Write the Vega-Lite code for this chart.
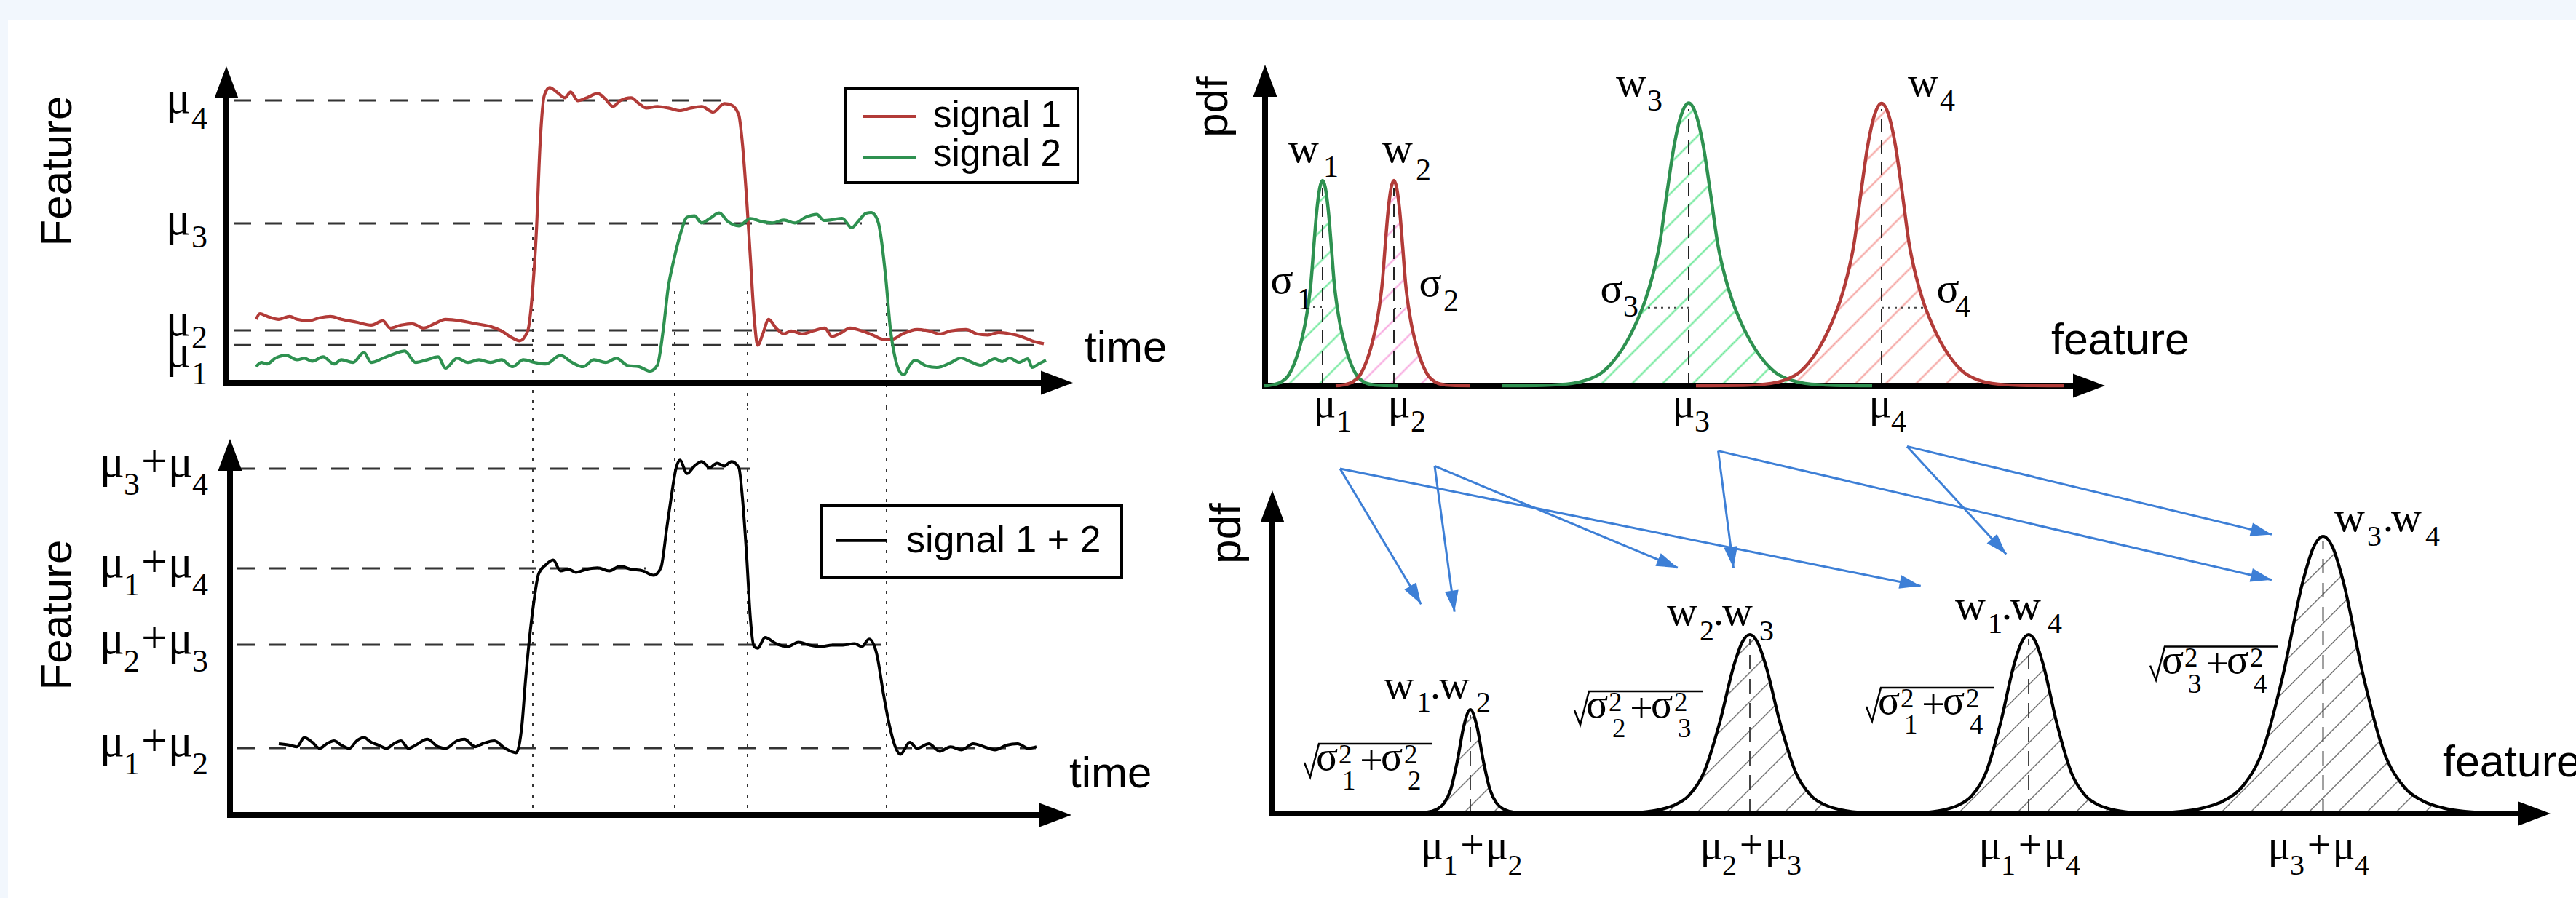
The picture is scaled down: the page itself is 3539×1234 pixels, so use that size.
{
"$schema":"https://vega.github.io/schema/vega-lite/v6.json",
"background":"white",
"padding":0,
"autosize":{"type":"pad"},
"spacing":0,
"config":{"view":{"stroke":null},"concat":{"spacing":0}},
"datasets":{
"signals":[
{"series":"signal 1","time":4.1,"feature":21.8},{"series":"signal 1","time":4.6,"feature":23.75},{"series":"signal 1","time":5.6,"feature":22.8},{"series":"signal 1","time":7.2,"feature":21.8},{"series":"signal 1","time":8.7,"feature":22.8},{"series":"signal 1","time":9.7,"feature":21.8},{"series":"signal 1","time":11.3,"feature":21.3},{"series":"signal 1","time":12.8,"feature":22.3},{"series":"signal 1","time":14.3,"feature":22.8},{"series":"signal 1","time":15.8,"feature":21.8},{"series":"signal 1","time":17.9,"feature":20.8},{"series":"signal 1","time":19.9,"feature":19.8},{"series":"signal 1","time":21.5,"feature":21.3},{"series":"signal 1","time":22.5,"feature":18.8},{"series":"signal 1","time":24.0,"feature":19.8},{"series":"signal 1","time":25.5,"feature":20.3},{"series":"signal 1","time":27.1,"feature":18.8},{"series":"signal 1","time":28.6,"feature":20.3},{"series":"signal 1","time":30.1,"feature":21.8},{"series":"signal 1","time":32.2,"feature":21.3},{"series":"signal 1","time":34.2,"feature":20.3},{"series":"signal 1","time":36.3,"feature":19.3},{"series":"signal 1","time":37.8,"feature":17.8},{"series":"signal 1","time":39.3,"feature":15.4},{"series":"signal 1","time":40.3,"feature":14.4},{"series":"signal 1","time":41.4,"feature":17.8},{"series":"signal 1","time":42.1,"feature":32.7},{"series":"signal 1","time":42.6,"feature":52.4},{"series":"signal 1","time":43.1,"feature":82.1},{"series":"signal 1","time":43.7,"feature":98.9},{"series":"signal 1","time":44.4,"feature":101.4},{"series":"signal 1","time":45.4,"feature":99.9},{"series":"signal 1","time":46.5,"feature":97.9},{"series":"signal 1","time":47.3,"feature":99.9},{"series":"signal 1","time":48.3,"feature":96.9},{"series":"signal 1","time":49.5,"feature":97.9},{"series":"signal 1","time":51.0,"feature":99.4},{"series":"signal 1","time":52.1,"feature":97.4},{"series":"signal 1","time":53.1,"feature":94.9},{"series":"signal 1","time":54.1,"feature":96.9},{"series":"signal 1","time":55.6,"feature":97.9},{"series":"signal 1","time":56.7,"feature":95.9},{"series":"signal 1","time":57.7,"feature":94.4},{"series":"signal 1","time":59.2,"feature":94.9},{"series":"signal 1","time":60.7,"feature":94.4},{"series":"signal 1","time":62.3,"feature":93.5},{"series":"signal 1","time":63.8,"feature":94.4},{"series":"signal 1","time":65.3,"feature":94.9},{"series":"signal 1","time":66.9,"feature":93.0},{"series":"signal 1","time":68.4,"feature":95.9},{"series":"signal 1","time":69.4,"feature":95.4},{"series":"signal 1","time":70.4,"feature":92.0},{"series":"signal 1","time":70.9,"feature":82.1},{"series":"signal 1","time":71.5,"feature":62.3},{"series":"signal 1","time":72.0,"feature":42.5},{"series":"signal 1","time":72.5,"feature":22.8},{"series":"signal 1","time":73.0,"feature":12.9},{"series":"signal 1","time":73.7,"feature":16.8},{"series":"signal 1","time":74.5,"feature":21.8},{"series":"signal 1","time":75.5,"feature":18.8},{"series":"signal 1","time":76.6,"feature":16.8},{"series":"signal 1","time":77.6,"feature":17.8},{"series":"signal 1","time":79.1,"feature":16.8},{"series":"signal 1","time":80.6,"feature":17.8},{"series":"signal 1","time":82.2,"feature":18.8},{"series":"signal 1","time":83.2,"feature":15.9},{"series":"signal 1","time":84.2,"feature":16.8},{"series":"signal 1","time":85.7,"feature":18.8},{"series":"signal 1","time":87.3,"feature":17.8},{"series":"signal 1","time":88.8,"feature":16.4},{"series":"signal 1","time":90.3,"feature":14.9},{"series":"signal 1","time":91.4,"feature":14.9},{"series":"signal 1","time":92.9,"feature":16.8},{"series":"signal 1","time":94.9,"feature":18.3},{"series":"signal 1","time":96.5,"feature":17.8},{"series":"signal 1","time":98.0,"feature":16.8},{"series":"signal 1","time":99.5,"feature":17.8},{"series":"signal 1","time":101.6,"feature":18.3},{"series":"signal 1","time":103.1,"feature":16.8},{"series":"signal 1","time":104.6,"feature":16.4},{"series":"signal 1","time":106.1,"feature":17.3},{"series":"signal 1","time":107.7,"feature":16.8},{"series":"signal 1","time":109.2,"feature":15.9},{"series":"signal 1","time":110.7,"feature":14.4},{"series":"signal 1","time":112.3,"feature":13.4},
{"series":"signal 2","time":4.1,"feature":5.5},{"series":"signal 2","time":4.8,"feature":6.95},{"series":"signal 2","time":5.6,"feature":6.45},{"series":"signal 2","time":6.7,"feature":8.4},{"series":"signal 2","time":8.2,"feature":9.4},{"series":"signal 2","time":9.7,"feature":7.9},{"series":"signal 2","time":10.7,"feature":8.4},{"series":"signal 2","time":11.8,"feature":7.4},{"series":"signal 2","time":13.3,"feature":8.9},{"series":"signal 2","time":14.8,"feature":6.45},{"series":"signal 2","time":15.8,"feature":7.9},{"series":"signal 2","time":17.4,"feature":6.95},{"series":"signal 2","time":18.9,"feature":10.4},{"series":"signal 2","time":19.9,"feature":6.95},{"series":"signal 2","time":21.5,"feature":8.4},{"series":"signal 2","time":23.0,"feature":9.9},{"series":"signal 2","time":24.5,"feature":10.9},{"series":"signal 2","time":26.0,"feature":6.95},{"series":"signal 2","time":27.6,"feature":7.9},{"series":"signal 2","time":29.1,"feature":8.9},{"series":"signal 2","time":30.1,"feature":5.0},{"series":"signal 2","time":31.7,"feature":8.4},{"series":"signal 2","time":33.2,"feature":6.95},{"series":"signal 2","time":34.7,"feature":7.9},{"series":"signal 2","time":36.3,"feature":6.95},{"series":"signal 2","time":37.8,"feature":7.9},{"series":"signal 2","time":39.3,"feature":5.5},{"series":"signal 2","time":40.8,"feature":7.9},{"series":"signal 2","time":42.4,"feature":6.95},{"series":"signal 2","time":43.9,"feature":6.45},{"series":"signal 2","time":45.9,"feature":9.4},{"series":"signal 2","time":47.5,"feature":6.95},{"series":"signal 2","time":49.0,"feature":5.5},{"series":"signal 2","time":50.5,"feature":7.9},{"series":"signal 2","time":52.1,"feature":6.95},{"series":"signal 2","time":53.6,"feature":8.4},{"series":"signal 2","time":55.1,"feature":5.95},{"series":"signal 2","time":56.7,"feature":5.5},{"series":"signal 2","time":58.2,"feature":4.0},{"series":"signal 2","time":59.2,"feature":5.95},{"series":"signal 2","time":60.0,"feature":17.8},{"series":"signal 2","time":60.7,"feature":32.65},{"series":"signal 2","time":61.5,"feature":42.5},{"series":"signal 2","time":62.3,"feature":50.45},{"series":"signal 2","time":63.3,"feature":56.9},{"series":"signal 2","time":64.3,"feature":57.35},{"series":"signal 2","time":65.3,"feature":54.9},{"series":"signal 2","time":66.4,"feature":56.4},{"series":"signal 2","time":67.7,"feature":58.35},{"series":"signal 2","time":68.9,"feature":55.4},{"series":"signal 2","time":70.4,"feature":53.9},{"series":"signal 2","time":72.0,"feature":56.4},{"series":"signal 2","time":73.5,"feature":55.4},{"series":"signal 2","time":75.0,"feature":54.9},{"series":"signal 2","time":76.6,"feature":55.9},{"series":"signal 2","time":78.1,"feature":54.9},{"series":"signal 2","time":79.6,"feature":56.9},{"series":"signal 2","time":81.1,"feature":57.85},{"series":"signal 2","time":82.1,"feature":55.75},{"series":"signal 2","time":83.2,"feature":56.0},{"series":"signal 2","time":84.6,"feature":56.5},{"series":"signal 2","time":85.9,"feature":53.25},{"series":"signal 2","time":86.9,"feature":55.75},{"series":"signal 2","time":87.9,"feature":58.25},{"series":"signal 2","time":88.6,"feature":58.5},{"series":"signal 2","time":89.2,"feature":57.25},{"series":"signal 2","time":89.6,"feature":54.75},{"series":"signal 2","time":90.6,"feature":35.75},{"series":"signal 2","time":91.2,"feature":19.0},{"series":"signal 2","time":91.9,"feature":8.25},{"series":"signal 2","time":92.6,"feature":3.5},{"series":"signal 2","time":93.1,"feature":2.75},{"series":"signal 2","time":93.7,"feature":5.25},{"series":"signal 2","time":94.6,"feature":7.75},{"series":"signal 2","time":96.2,"feature":5.75},{"series":"signal 2","time":97.6,"feature":5.25},{"series":"signal 2","time":99.6,"feature":7.0},{"series":"signal 2","time":100.9,"feature":8.5},{"series":"signal 2","time":102.2,"feature":7.25},{"series":"signal 2","time":103.6,"feature":6.0},{"series":"signal 2","time":105.6,"feature":8.25},{"series":"signal 2","time":106.6,"feature":7.25},{"series":"signal 2","time":107.6,"feature":8.5},{"series":"signal 2","time":108.9,"feature":7.0},{"series":"signal 2","time":110.1,"feature":8.25},{"series":"signal 2","time":110.7,"feature":5.25},{"series":"signal 2","time":111.6,"feature":6.5},{"series":"signal 2","time":112.6,"feature":7.75}
],
"sum":[
{"time":7.2,"feature":24.5},{"time":8.7,"feature":24.0},{"time":9.7,"feature":23.45},{"time":10.7,"feature":26.6},{"time":11.8,"feature":25.0},{"time":12.8,"feature":22.9},{"time":13.8,"feature":24.5},{"time":14.8,"feature":25.5},{"time":15.8,"feature":24.0},{"time":16.9,"feature":22.9},{"time":17.9,"feature":25.5},{"time":18.9,"feature":26.6},{"time":19.9,"feature":25.0},{"time":20.9,"feature":24.0},{"time":22.0,"feature":22.9},{"time":23.0,"feature":24.5},{"time":24.0,"feature":25.5},{"time":25.0,"feature":22.9},{"time":26.0,"feature":24.0},{"time":27.6,"feature":26.05},{"time":29.1,"feature":23.45},{"time":30.1,"feature":22.9},{"time":31.7,"feature":25.5},{"time":32.7,"feature":26.05},{"time":34.2,"feature":23.45},{"time":35.2,"feature":24.5},{"time":36.8,"feature":25.5},{"time":38.3,"feature":22.9},{"time":39.8,"feature":21.4},{"time":40.6,"feature":30.75},{"time":41.1,"feature":46.4},{"time":41.7,"feature":62.0},{"time":42.2,"feature":72.45},{"time":42.9,"feature":82.9},{"time":43.9,"feature":86.0},{"time":44.9,"feature":87.6},{"time":45.9,"feature":83.9},{"time":47.0,"feature":84.45},{"time":48.0,"feature":83.4},{"time":49.5,"feature":84.45},{"time":51.0,"feature":84.95},{"time":52.6,"feature":83.9},{"time":54.1,"feature":85.5},{"time":55.6,"feature":84.45},{"time":57.2,"feature":83.9},{"time":58.7,"feature":82.35},{"time":59.7,"feature":84.95},{"time":60.5,"feature":98.5},{"time":61.1,"feature":108.9},{"time":61.8,"feature":119.35},{"time":62.3,"feature":121.95},{"time":63.3,"feature":117.3},{"time":64.3,"feature":119.9},{"time":65.3,"feature":121.45},{"time":66.4,"feature":119.35},{"time":67.4,"feature":120.9},{"time":68.4,"feature":119.9},{"time":69.4,"feature":121.45},{"time":70.4,"feature":119.35},{"time":70.9,"feature":108.9},{"time":71.5,"feature":88.1},{"time":72.0,"feature":67.2},{"time":72.5,"feature":57.85},{"time":73.0,"feature":57.3},{"time":74.0,"feature":61.0},{"time":75.5,"feature":58.9},{"time":77.1,"feature":57.85},{"time":78.6,"feature":59.4},{"time":80.1,"feature":58.4},{"time":81.7,"feature":57.85},{"time":83.2,"feature":58.4},{"time":84.7,"feature":58.4},{"time":86.3,"feature":58.9},{"time":87.3,"feature":57.85},{"time":88.3,"feature":60.45},{"time":89.3,"feature":55.8},{"time":90.3,"feature":41.2},{"time":91.1,"feature":30.75},{"time":91.9,"feature":23.45},{"time":92.6,"feature":20.85},{"time":93.9,"feature":25.0},{"time":94.9,"feature":22.9},{"time":96.5,"feature":24.5},{"time":98.0,"feature":21.9},{"time":99.5,"feature":23.45},{"time":101.0,"feature":22.4},{"time":102.6,"feature":24.5},{"time":104.1,"feature":23.45},{"time":105.6,"feature":22.4},{"time":107.2,"feature":24.0},{"time":108.7,"feature":24.5},{"time":110.2,"feature":22.9},{"time":111.3,"feature":23.45}
],
"mixture":[
{"component":"P1","signal":"signal 2","feature":-0.1,"pdf":0},{"component":"P1","signal":"signal 2","feature":1.5,"pdf":0.56},{"component":"P1","signal":"signal 2","feature":2.3,"pdf":1.41},{"component":"P1","signal":"signal 2","feature":3.1,"pdf":3.17},{"component":"P1","signal":"signal 2","feature":3.5,"pdf":4.79},{"component":"P1","signal":"signal 2","feature":3.9,"pdf":6.91},{"component":"P1","signal":"signal 2","feature":4.3,"pdf":9.52},{"component":"P1","signal":"signal 2","feature":4.7,"pdf":12.69},{"component":"P1","signal":"signal 2","feature":5.1,"pdf":16.57},{"component":"P1","signal":"signal 2","feature":5.5,"pdf":21.15},{"component":"P1","signal":"signal 2","feature":5.9,"pdf":27.14},{"component":"P1","signal":"signal 2","feature":6.3,"pdf":35.25},{"component":"P1","signal":"signal 2","feature":6.7,"pdf":47.94},{"component":"P1","signal":"signal 2","feature":7.1,"pdf":59.93},{"component":"P1","signal":"signal 2","feature":7.5,"pdf":67.68},{"component":"P1","signal":"signal 2","feature":7.9,"pdf":70.5},{"component":"P1","signal":"signal 2","feature":8.3,"pdf":67.68},{"component":"P1","signal":"signal 2","feature":8.7,"pdf":59.93},{"component":"P1","signal":"signal 2","feature":9.1,"pdf":47.94},{"component":"P1","signal":"signal 2","feature":9.5,"pdf":35.25},{"component":"P1","signal":"signal 2","feature":9.9,"pdf":27.14},{"component":"P1","signal":"signal 2","feature":10.3,"pdf":21.15},{"component":"P1","signal":"signal 2","feature":10.7,"pdf":16.57},{"component":"P1","signal":"signal 2","feature":11.1,"pdf":12.69},{"component":"P1","signal":"signal 2","feature":11.5,"pdf":9.52},{"component":"P1","signal":"signal 2","feature":11.9,"pdf":6.91},{"component":"P1","signal":"signal 2","feature":12.3,"pdf":4.79},{"component":"P1","signal":"signal 2","feature":12.7,"pdf":3.17},{"component":"P1","signal":"signal 2","feature":13.5,"pdf":1.41},{"component":"P1","signal":"signal 2","feature":14.3,"pdf":0.56},{"component":"P1","signal":"signal 2","feature":15.9,"pdf":0.11},{"component":"P1","signal":"signal 2","feature":18.3,"pdf":0},
{"component":"P2","signal":"signal 1","feature":9.7,"pdf":0},{"component":"P2","signal":"signal 1","feature":11.3,"pdf":0.56},{"component":"P2","signal":"signal 1","feature":12.1,"pdf":1.41},{"component":"P2","signal":"signal 1","feature":12.9,"pdf":3.17},{"component":"P2","signal":"signal 1","feature":13.3,"pdf":4.79},{"component":"P2","signal":"signal 1","feature":13.7,"pdf":6.91},{"component":"P2","signal":"signal 1","feature":14.1,"pdf":9.52},{"component":"P2","signal":"signal 1","feature":14.5,"pdf":12.69},{"component":"P2","signal":"signal 1","feature":14.9,"pdf":16.57},{"component":"P2","signal":"signal 1","feature":15.3,"pdf":21.15},{"component":"P2","signal":"signal 1","feature":15.7,"pdf":27.14},{"component":"P2","signal":"signal 1","feature":16.1,"pdf":35.25},{"component":"P2","signal":"signal 1","feature":16.5,"pdf":47.94},{"component":"P2","signal":"signal 1","feature":16.9,"pdf":59.93},{"component":"P2","signal":"signal 1","feature":17.3,"pdf":67.68},{"component":"P2","signal":"signal 1","feature":17.7,"pdf":70.5},{"component":"P2","signal":"signal 1","feature":18.1,"pdf":67.68},{"component":"P2","signal":"signal 1","feature":18.5,"pdf":59.93},{"component":"P2","signal":"signal 1","feature":18.9,"pdf":47.94},{"component":"P2","signal":"signal 1","feature":19.3,"pdf":35.25},{"component":"P2","signal":"signal 1","feature":19.7,"pdf":27.14},{"component":"P2","signal":"signal 1","feature":20.1,"pdf":21.15},{"component":"P2","signal":"signal 1","feature":20.5,"pdf":16.57},{"component":"P2","signal":"signal 1","feature":20.9,"pdf":12.69},{"component":"P2","signal":"signal 1","feature":21.3,"pdf":9.52},{"component":"P2","signal":"signal 1","feature":21.7,"pdf":6.91},{"component":"P2","signal":"signal 1","feature":22.1,"pdf":4.79},{"component":"P2","signal":"signal 1","feature":22.5,"pdf":3.17},{"component":"P2","signal":"signal 1","feature":23.3,"pdf":1.41},{"component":"P2","signal":"signal 1","feature":24.1,"pdf":0.56},{"component":"P2","signal":"signal 1","feature":25.7,"pdf":0.11},{"component":"P2","signal":"signal 1","feature":28.1,"pdf":0},
{"component":"P3","signal":"signal 2","feature":32.6,"pdf":0},{"component":"P3","signal":"signal 2","feature":38.2,"pdf":0.15},{"component":"P3","signal":"signal 2","feature":42.2,"pdf":0.78},{"component":"P3","signal":"signal 2","feature":44.2,"pdf":1.94},{"component":"P3","signal":"signal 2","feature":46.2,"pdf":4.37},{"component":"P3","signal":"signal 2","feature":47.2,"pdf":6.6},{"component":"P3","signal":"signal 2","feature":48.2,"pdf":9.5},{"component":"P3","signal":"signal 2","feature":49.2,"pdf":13.1},{"component":"P3","signal":"signal 2","feature":50.2,"pdf":17.5},{"component":"P3","signal":"signal 2","feature":51.2,"pdf":22.8},{"component":"P3","signal":"signal 2","feature":52.2,"pdf":29.1},{"component":"P3","signal":"signal 2","feature":53.2,"pdf":37.4},{"component":"P3","signal":"signal 2","feature":54.2,"pdf":48.55},{"component":"P3","signal":"signal 2","feature":55.2,"pdf":66.0},{"component":"P3","signal":"signal 2","feature":56.2,"pdf":82.5},{"component":"P3","signal":"signal 2","feature":57.2,"pdf":93.2},{"component":"P3","signal":"signal 2","feature":58.2,"pdf":97.1},{"component":"P3","signal":"signal 2","feature":59.2,"pdf":93.2},{"component":"P3","signal":"signal 2","feature":60.2,"pdf":82.5},{"component":"P3","signal":"signal 2","feature":61.2,"pdf":66.0},{"component":"P3","signal":"signal 2","feature":62.2,"pdf":48.55},{"component":"P3","signal":"signal 2","feature":63.2,"pdf":37.4},{"component":"P3","signal":"signal 2","feature":64.2,"pdf":29.1},{"component":"P3","signal":"signal 2","feature":65.2,"pdf":22.8},{"component":"P3","signal":"signal 2","feature":66.2,"pdf":17.5},{"component":"P3","signal":"signal 2","feature":67.2,"pdf":13.1},{"component":"P3","signal":"signal 2","feature":68.2,"pdf":9.5},{"component":"P3","signal":"signal 2","feature":69.2,"pdf":6.6},{"component":"P3","signal":"signal 2","feature":70.2,"pdf":4.37},{"component":"P3","signal":"signal 2","feature":72.2,"pdf":1.94},{"component":"P3","signal":"signal 2","feature":74.2,"pdf":0.78},{"component":"P3","signal":"signal 2","feature":78.2,"pdf":0.15},{"component":"P3","signal":"signal 2","feature":83.4,"pdf":0},
{"component":"P4","signal":"signal 1","feature":59.2,"pdf":0},{"component":"P4","signal":"signal 1","feature":65.7,"pdf":0.15},{"component":"P4","signal":"signal 1","feature":69.5,"pdf":0.78},{"component":"P4","signal":"signal 1","feature":71.4,"pdf":1.94},{"component":"P4","signal":"signal 1","feature":73.3,"pdf":4.37},{"component":"P4","signal":"signal 1","feature":74.25,"pdf":6.6},{"component":"P4","signal":"signal 1","feature":75.2,"pdf":9.5},{"component":"P4","signal":"signal 1","feature":76.15,"pdf":13.1},{"component":"P4","signal":"signal 1","feature":77.1,"pdf":17.5},{"component":"P4","signal":"signal 1","feature":78.05,"pdf":22.8},{"component":"P4","signal":"signal 1","feature":79.0,"pdf":29.1},{"component":"P4","signal":"signal 1","feature":79.95,"pdf":37.4},{"component":"P4","signal":"signal 1","feature":80.9,"pdf":48.55},{"component":"P4","signal":"signal 1","feature":81.85,"pdf":66.0},{"component":"P4","signal":"signal 1","feature":82.8,"pdf":82.5},{"component":"P4","signal":"signal 1","feature":83.75,"pdf":93.2},{"component":"P4","signal":"signal 1","feature":84.7,"pdf":97.0},{"component":"P4","signal":"signal 1","feature":85.65,"pdf":93.2},{"component":"P4","signal":"signal 1","feature":86.6,"pdf":82.5},{"component":"P4","signal":"signal 1","feature":87.55,"pdf":66.0},{"component":"P4","signal":"signal 1","feature":88.5,"pdf":48.55},{"component":"P4","signal":"signal 1","feature":89.45,"pdf":37.4},{"component":"P4","signal":"signal 1","feature":90.4,"pdf":29.1},{"component":"P4","signal":"signal 1","feature":91.35,"pdf":22.8},{"component":"P4","signal":"signal 1","feature":92.3,"pdf":17.5},{"component":"P4","signal":"signal 1","feature":93.25,"pdf":13.1},{"component":"P4","signal":"signal 1","feature":94.2,"pdf":9.5},{"component":"P4","signal":"signal 1","feature":95.15,"pdf":6.6},{"component":"P4","signal":"signal 1","feature":96.1,"pdf":4.37},{"component":"P4","signal":"signal 1","feature":98.0,"pdf":1.94},{"component":"P4","signal":"signal 1","feature":99.9,"pdf":0.78},{"component":"P4","signal":"signal 1","feature":103.7,"pdf":0.15},{"component":"P4","signal":"signal 1","feature":109.8,"pdf":0}
],
"convolved":[
{"feature":18.2,"pdf":0},{"feature":20.0,"pdf":0.11},{"feature":20.9,"pdf":0.29},{"feature":21.8,"pdf":0.72},{"feature":22.7,"pdf":1.61},{"feature":23.6,"pdf":3.58},{"feature":24.5,"pdf":8.22},{"feature":25.4,"pdf":17.88},{"feature":26.3,"pdf":30.03},{"feature":27.2,"pdf":35.75},{"feature":28.1,"pdf":30.03},{"feature":29.0,"pdf":17.88},{"feature":29.9,"pdf":8.22},{"feature":30.8,"pdf":3.58},{"feature":31.7,"pdf":1.61},{"feature":32.6,"pdf":0.72},{"feature":33.5,"pdf":0.29},{"feature":34.4,"pdf":0.11},{"feature":36.2,"pdf":0},{"feature":44.6,"pdf":0},{"feature":48.8,"pdf":0.18},{"feature":50.9,"pdf":0.49},{"feature":53.0,"pdf":1.23},{"feature":55.1,"pdf":2.77},{"feature":57.2,"pdf":6.15},{"feature":59.3,"pdf":14.15},{"feature":61.4,"pdf":30.75},{"feature":63.5,"pdf":51.66},{"feature":64.55,"pdf":58.86},{"feature":65.6,"pdf":61.5},{"feature":66.65,"pdf":58.86},{"feature":67.7,"pdf":51.66},{"feature":69.8,"pdf":30.75},{"feature":71.9,"pdf":14.15},{"feature":74.0,"pdf":6.15},{"feature":76.1,"pdf":2.77},{"feature":78.2,"pdf":1.23},{"feature":80.3,"pdf":0.49},{"feature":82.4,"pdf":0.18},{"feature":85.4,"pdf":0.05},{"feature":88.3,"pdf":0.18},{"feature":90.25,"pdf":0.49},{"feature":92.2,"pdf":1.23},{"feature":94.15,"pdf":2.77},{"feature":96.1,"pdf":6.15},{"feature":98.05,"pdf":14.15},{"feature":100.0,"pdf":30.75},{"feature":101.95,"pdf":51.66},{"feature":102.93,"pdf":58.86},{"feature":103.9,"pdf":61.5},{"feature":104.88,"pdf":58.86},{"feature":105.85,"pdf":51.66},{"feature":107.8,"pdf":30.75},{"feature":109.75,"pdf":14.15},{"feature":111.7,"pdf":6.15},{"feature":113.65,"pdf":2.77},{"feature":115.6,"pdf":1.23},{"feature":117.55,"pdf":0.49},{"feature":119.5,"pdf":0.25},{"feature":122.35,"pdf":0.29},{"feature":125.1,"pdf":0.76},{"feature":127.85,"pdf":1.91},{"feature":130.6,"pdf":4.29},{"feature":133.35,"pdf":9.53},{"feature":136.1,"pdf":21.91},{"feature":138.85,"pdf":47.63},{"feature":141.6,"pdf":80.01},{"feature":142.98,"pdf":91.15},{"feature":144.35,"pdf":95.25},{"feature":145.73,"pdf":91.15},{"feature":147.1,"pdf":80.01},{"feature":149.85,"pdf":47.63},{"feature":152.6,"pdf":21.91},{"feature":155.35,"pdf":9.53},{"feature":158.1,"pdf":4.29},{"feature":160.85,"pdf":1.91},{"feature":163.6,"pdf":0.76},{"feature":166.35,"pdf":0.29},{"feature":171.85,"pdf":0}
]
},
"hconcat":[
{"vconcat":[
{"width":1620,"height":560,
"encoding":{"x":{"field":"time","type":"quantitative","scale":{"domain":[-31.1,130.9],"nice":false,"zero":false},"axis":null},"y":{"field":"feature","type":"quantitative","scale":{"domain":[-8.5,131.5],"nice":false,"zero":false},"axis":null}},
"layer":[
{"data":{"values":[{"time":-31.1,"time2":130.9,"feature":131.5,"feature2":124.5},{"time":-31.1,"time2":-30,"feature":124.5,"feature2":-8.5}]},"mark":{"type":"rect","color":"#f2f7fd"},"encoding":{"x2":{"field":"time2"},"y2":{"field":"feature2"}}},
{"data":{"values":[{"time":1.0,"time2":68.9,"feature":97,"feature2":97},{"time":1.0,"time2":87.3,"feature":54.75,"feature2":54.75},{"time":1.0,"time2":111.7,"feature":18,"feature2":18},{"time":1.0,"time2":111.7,"feature":12.9,"feature2":12.9}]},"mark":{"type":"rule","color":"#333333","strokeWidth":3.2,"strokeDash":[24,19]},"encoding":{"x2":{"field":"time2"},"y2":{"field":"feature2"}}},
{"data":{"values":[{"time":42.1,"time2":42.1,"feature":53.5,"feature2":-8.5},{"time":61.6,"time2":61.6,"feature":31.5,"feature2":-8.5},{"time":71.6,"time2":71.6,"feature":31.5,"feature2":-8.5},{"time":90.7,"time2":90.7,"feature":31,"feature2":-8.5}]},"mark":{"type":"rule","color":"#333333","strokeWidth":2,"strokeDash":[4,10]},"encoding":{"x2":{"field":"time2"},"y2":{"field":"feature2"}}},
{"data":{"values":[{"time":85.1,"time2":117.0,"feature":101,"feature2":68.75}]},"mark":{"type":"rect","filled":false,"stroke":"black","strokeWidth":4},"encoding":{"x2":{"field":"time2"},"y2":{"field":"feature2"}}},
{"data":{"values":[{"series":"signal 1","time":87.4,"time2":94.7,"feature":91.5,"feature2":91.5},{"series":"signal 2","time":87.4,"time2":94.7,"feature":77.3,"feature2":77.3}]},"mark":{"type":"rule","strokeWidth":4.2},"encoding":{"x2":{"field":"time2"},"y2":{"field":"feature2"},"color":{"field":"series","type":"nominal","scale":{"domain":["signal 1","signal 2"],"range":["#b23b38","#2e9150"]},"legend":null}}},
{"data":{"values":[{"label":"signal 1","time":97.1,"feature":87.75},{"label":"signal 2","time":97.1,"feature":74.5}]},"mark":{"type":"text","font":"Liberation Sans","fontSize":51,"align":"left","baseline":"alphabetic","color":"black"},"encoding":{"text":{"field":"label"}}},
{"data":{"name":"signals"},"mark":{"type":"line","strokeWidth":4.2,"interpolate":"monotone"},"encoding":{"color":{"field":"series","type":"nominal","scale":{"domain":["signal 1","signal 2"],"range":["#b23b38","#2e9150"]},"legend":null}}},
{"data":{"values":[{"time":0,"time2":0,"feature":-1,"feature2":98.75},{"time":-0.4,"time2":112.3,"feature":0,"feature2":0}]},"mark":{"type":"rule","color":"black","strokeWidth":8},"encoding":{"x2":{"field":"time2"},"y2":{"field":"feature2"}}},
{"data":{"values":[{"time":0,"feature":108.75}]},"mark":{"type":"point","shape":"M0,0L-0.75,2L0.75,2Z","size":1936,"filled":true,"color":"black","opacity":1,"strokeWidth":0}},
{"data":{"values":[{"time":116.3,"feature":0}]},"mark":{"type":"point","shape":"M0,0L-2,-0.75L-2,0.75Z","size":1936,"filled":true,"color":"black","opacity":1,"strokeWidth":0}},
{"data":{"values":[{"label":"μ","time":-6.6,"feature":92.75},{"label":"μ","time":-6.6,"feature":51},{"label":"μ","time":-6.6,"feature":16.25},{"label":"μ","time":-6.6,"feature":5.6}]},"mark":{"type":"text","font":"Liberation Serif","fontSize":64,"align":"center","baseline":"alphabetic","color":"black"},"encoding":{"text":{"field":"label"}}},
{"data":{"values":[{"label":"4","time":-4.8,"feature":87.25},{"label":"3","time":-4.8,"feature":46.5},{"label":"2","time":-4.8,"feature":12},{"label":"1","time":-4.8,"feature":-0.4}]},"mark":{"type":"text","font":"Liberation Serif","fontSize":44,"align":"left","baseline":"alphabetic","color":"black"},"encoding":{"text":{"field":"label"}}},
{"data":{"values":[{"label":"Feature","time":-23.1,"feature":72.75}]},"mark":{"type":"text","font":"Liberation Sans","fontSize":60,"angle":270,"align":"center","baseline":"middle","color":"black"},"encoding":{"text":{"field":"label"}}},
{"data":{"values":[{"label":"time","time":117.9,"feature":7.25}]},"mark":{"type":"text","font":"Liberation Sans","fontSize":60,"align":"left","baseline":"alphabetic","color":"black"},"encoding":{"text":{"field":"label"}}}
]},
{"width":1620,"height":674,
"encoding":{"x":{"field":"time","type":"quantitative","scale":{"domain":[-31.1,130.9],"nice":false,"zero":false},"axis":null},"y":{"field":"feature","type":"quantitative","scale":{"domain":[-28.5,140],"nice":false,"zero":false},"axis":null}},
"layer":[
{"data":{"values":[{"time":-31.1,"time2":-30,"feature":140,"feature2":-28.5}]},"mark":{"type":"rect","color":"#f2f7fd"},"encoding":{"x2":{"field":"time2"},"y2":{"field":"feature2"}}},
{"data":{"values":[{"time":1.5,"time2":71.9,"feature":119,"feature2":119},{"time":1.5,"time2":57.7,"feature":84.75,"feature2":84.75},{"time":1.5,"time2":91.3,"feature":58.5,"feature2":58.5},{"time":1.5,"time2":111.2,"feature":23,"feature2":23}]},"mark":{"type":"rule","color":"#333333","strokeWidth":3.2,"strokeDash":[24,19]},"encoding":{"x2":{"field":"time2"},"y2":{"field":"feature2"}}},
{"data":{"values":[{"time":42.1,"time2":42.1,"feature":140,"feature2":0},{"time":61.6,"time2":61.6,"feature":140,"feature2":0},{"time":71.6,"time2":71.6,"feature":140,"feature2":0},{"time":90.7,"time2":90.7,"feature":140,"feature2":0}]},"mark":{"type":"rule","color":"#333333","strokeWidth":2,"strokeDash":[4,10]},"encoding":{"x2":{"field":"time2"},"y2":{"field":"feature2"}}},
{"data":{"values":[{"time":81.7,"time2":123.0,"feature":106.25,"feature2":81.75}]},"mark":{"type":"rect","filled":false,"stroke":"black","strokeWidth":4},"encoding":{"x2":{"field":"time2"},"y2":{"field":"feature2"}}},
{"data":{"values":[{"time":83.7,"time2":90.8,"feature":94.35,"feature2":94.35}]},"mark":{"type":"rule","color":"black","strokeWidth":4.2},"encoding":{"x2":{"field":"time2"},"y2":{"field":"feature2"}}},
{"data":{"values":[{"label":"signal 1 + 2","time":93.4,"feature":90.25}]},"mark":{"type":"text","font":"Liberation Sans","fontSize":52,"align":"left","baseline":"alphabetic","color":"black"},"encoding":{"text":{"field":"label"}}},
{"data":{"name":"sum"},"mark":{"type":"line","strokeWidth":4,"color":"black","interpolate":"monotone"}},
{"data":{"values":[{"time":0.5,"time2":0.5,"feature":-1,"feature2":119.25},{"time":0.1,"time2":112.1,"feature":0,"feature2":0}]},"mark":{"type":"rule","color":"black","strokeWidth":8},"encoding":{"x2":{"field":"time2"},"y2":{"field":"feature2"}}},
{"data":{"values":[{"time":0.5,"feature":129.25}]},"mark":{"type":"point","shape":"M0,0L-0.75,2L0.75,2Z","size":1936,"filled":true,"color":"black","opacity":1,"strokeWidth":0}},
{"data":{"values":[{"time":116.1,"feature":0}]},"mark":{"type":"point","shape":"M0,0L-2,-0.75L-2,0.75Z","size":1936,"filled":true,"color":"black","opacity":1,"strokeWidth":0}},
{"data":{"values":[{"label":"μ","time":-15.7,"feature":116.25},{"label":"+","time":-9.9,"feature":116.25},{"label":"μ","time":-6.3,"feature":116.25},{"label":"μ","time":-15.7,"feature":81.75},{"label":"+","time":-9.9,"feature":81.75},{"label":"μ","time":-6.3,"feature":81.75},{"label":"μ","time":-15.7,"feature":55.5},{"label":"+","time":-9.9,"feature":55.5},{"label":"μ","time":-6.3,"feature":55.5},{"label":"μ","time":-15.7,"feature":20.25},{"label":"+","time":-9.9,"feature":20.25},{"label":"μ","time":-6.3,"feature":20.25}]},"mark":{"type":"text","font":"Liberation Serif","fontSize":64,"align":"center","baseline":"alphabetic","color":"black"},"encoding":{"text":{"field":"label"}}},
{"data":{"values":[{"label":"3","time":-14.1,"feature":110},{"label":"4","time":-4.7,"feature":110},{"label":"1","time":-14.1,"feature":75.5},{"label":"4","time":-4.7,"feature":75.5},{"label":"2","time":-14.1,"feature":49.25},{"label":"3","time":-4.7,"feature":49.25},{"label":"1","time":-14.1,"feature":14},{"label":"2","time":-4.7,"feature":14}]},"mark":{"type":"text","font":"Liberation Serif","fontSize":44,"align":"left","baseline":"alphabetic","color":"black"},"encoding":{"text":{"field":"label"}}},
{"data":{"values":[{"label":"Feature","time":-23.1,"feature":68.75}]},"mark":{"type":"text","font":"Liberation Sans","fontSize":60,"angle":270,"align":"center","baseline":"middle","color":"black"},"encoding":{"text":{"field":"label"}}},
{"data":{"values":[{"label":"time","time":115.8,"feature":9.5}]},"mark":{"type":"text","font":"Liberation Sans","fontSize":60,"align":"left","baseline":"alphabetic","color":"black"},"encoding":{"text":{"field":"label"}}}
]}
],"spacing":0,"bounds":"flush"},
{"vconcat":[
{"width":1919,"height":605,
"encoding":{"x":{"field":"feature","type":"quantitative","scale":{"domain":[-11.8,180.1],"nice":false,"zero":false},"axis":null},"y":{"field":"pdf","type":"quantitative","scale":{"domain":[-18.75,132.5],"nice":false,"zero":false},"axis":null}},
"layer":[
{"data":{"values":[{"feature":-11.8,"feature2":180.1,"pdf":132.5,"pdf2":125.5}]},"mark":{"type":"rect","color":"#f2f7fd"},"encoding":{"x2":{"field":"feature2"},"y2":{"field":"pdf2"}}},
{"data":{"name":"mixture"},"transform":[{"filter":"datum.component === 'P1'"}],"mark":{"type":"area","interpolate":"monotone","fill":{"gradient":"linear","x1":0,"y1":0,"x2":1,"y2":1.533,"stops":[{"offset":0,"color":"rgba(111,232,154,0)"},{"offset":0.03,"color":"rgba(111,232,154,0)"},{"offset":0.035,"color":"#6fe89a"},{"offset":0.04,"color":"rgba(111,232,154,0)"},{"offset":0.0977,"color":"rgba(111,232,154,0)"},{"offset":0.1027,"color":"#6fe89a"},{"offset":0.1077,"color":"rgba(111,232,154,0)"},{"offset":0.1654,"color":"rgba(111,232,154,0)"},{"offset":0.1704,"color":"#6fe89a"},{"offset":0.1754,"color":"rgba(111,232,154,0)"},{"offset":0.2331,"color":"rgba(111,232,154,0)"},{"offset":0.2381,"color":"#6fe89a"},{"offset":0.2431,"color":"rgba(111,232,154,0)"},{"offset":0.3008,"color":"rgba(111,232,154,0)"},{"offset":0.3058,"color":"#6fe89a"},{"offset":0.3108,"color":"rgba(111,232,154,0)"},{"offset":0.3685,"color":"rgba(111,232,154,0)"},{"offset":0.3735,"color":"#6fe89a"},{"offset":0.3785,"color":"rgba(111,232,154,0)"},{"offset":0.4362,"color":"rgba(111,232,154,0)"},{"offset":0.4412,"color":"#6fe89a"},{"offset":0.4462,"color":"rgba(111,232,154,0)"},{"offset":0.5039,"color":"rgba(111,232,154,0)"},{"offset":0.5089,"color":"#6fe89a"},{"offset":0.5139,"color":"rgba(111,232,154,0)"},{"offset":0.5716,"color":"rgba(111,232,154,0)"},{"offset":0.5766,"color":"#6fe89a"},{"offset":0.5816,"color":"rgba(111,232,154,0)"},{"offset":0.6393,"color":"rgba(111,232,154,0)"},{"offset":0.6443,"color":"#6fe89a"},{"offset":0.6493,"color":"rgba(111,232,154,0)"},{"offset":0.707,"color":"rgba(111,232,154,0)"},{"offset":0.712,"color":"#6fe89a"},{"offset":0.717,"color":"rgba(111,232,154,0)"},{"offset":1,"color":"rgba(111,232,154,0)"}]}},"encoding":{"y2":{"datum":0}}},
{"data":{"name":"mixture"},"transform":[{"filter":"datum.component === 'P2'"}],"mark":{"type":"area","interpolate":"monotone","fill":{"gradient":"linear","x1":0,"y1":0,"x2":1,"y2":1.533,"stops":[{"offset":0,"color":"rgba(247,166,222,0)"},{"offset":0.03,"color":"rgba(247,166,222,0)"},{"offset":0.035,"color":"#f7a6de"},{"offset":0.04,"color":"rgba(247,166,222,0)"},{"offset":0.0977,"color":"rgba(247,166,222,0)"},{"offset":0.1027,"color":"#f7a6de"},{"offset":0.1077,"color":"rgba(247,166,222,0)"},{"offset":0.1654,"color":"rgba(247,166,222,0)"},{"offset":0.1704,"color":"#f7a6de"},{"offset":0.1754,"color":"rgba(247,166,222,0)"},{"offset":0.2331,"color":"rgba(247,166,222,0)"},{"offset":0.2381,"color":"#f7a6de"},{"offset":0.2431,"color":"rgba(247,166,222,0)"},{"offset":0.3008,"color":"rgba(247,166,222,0)"},{"offset":0.3058,"color":"#f7a6de"},{"offset":0.3108,"color":"rgba(247,166,222,0)"},{"offset":0.3685,"color":"rgba(247,166,222,0)"},{"offset":0.3735,"color":"#f7a6de"},{"offset":0.3785,"color":"rgba(247,166,222,0)"},{"offset":0.4362,"color":"rgba(247,166,222,0)"},{"offset":0.4412,"color":"#f7a6de"},{"offset":0.4462,"color":"rgba(247,166,222,0)"},{"offset":0.5039,"color":"rgba(247,166,222,0)"},{"offset":0.5089,"color":"#f7a6de"},{"offset":0.5139,"color":"rgba(247,166,222,0)"},{"offset":0.5716,"color":"rgba(247,166,222,0)"},{"offset":0.5766,"color":"#f7a6de"},{"offset":0.5816,"color":"rgba(247,166,222,0)"},{"offset":0.6393,"color":"rgba(247,166,222,0)"},{"offset":0.6443,"color":"#f7a6de"},{"offset":0.6493,"color":"rgba(247,166,222,0)"},{"offset":0.707,"color":"rgba(247,166,222,0)"},{"offset":0.712,"color":"#f7a6de"},{"offset":0.717,"color":"rgba(247,166,222,0)"},{"offset":1,"color":"rgba(247,166,222,0)"}]}},"encoding":{"y2":{"datum":0}}},
{"data":{"name":"mixture"},"transform":[{"filter":"datum.component === 'P3'"}],"mark":{"type":"area","interpolate":"monotone","fill":{"gradient":"linear","x1":0,"y1":0,"x2":1.12,"y2":0.857,"stops":[{"offset":0,"color":"rgba(111,232,154,0)"},{"offset":0.02,"color":"rgba(111,232,154,0)"},{"offset":0.0235,"color":"#6fe89a"},{"offset":0.027,"color":"rgba(111,232,154,0)"},{"offset":0.0663,"color":"rgba(111,232,154,0)"},{"offset":0.0698,"color":"#6fe89a"},{"offset":0.0733,"color":"rgba(111,232,154,0)"},{"offset":0.1126,"color":"rgba(111,232,154,0)"},{"offset":0.1161,"color":"#6fe89a"},{"offset":0.1196,"color":"rgba(111,232,154,0)"},{"offset":0.1589,"color":"rgba(111,232,154,0)"},{"offset":0.1624,"color":"#6fe89a"},{"offset":0.1659,"color":"rgba(111,232,154,0)"},{"offset":0.2052,"color":"rgba(111,232,154,0)"},{"offset":0.2087,"color":"#6fe89a"},{"offset":0.2122,"color":"rgba(111,232,154,0)"},{"offset":0.2515,"color":"rgba(111,232,154,0)"},{"offset":0.255,"color":"#6fe89a"},{"offset":0.2585,"color":"rgba(111,232,154,0)"},{"offset":0.2978,"color":"rgba(111,232,154,0)"},{"offset":0.3013,"color":"#6fe89a"},{"offset":0.3048,"color":"rgba(111,232,154,0)"},{"offset":0.3441,"color":"rgba(111,232,154,0)"},{"offset":0.3476,"color":"#6fe89a"},{"offset":0.3511,"color":"rgba(111,232,154,0)"},{"offset":0.3904,"color":"rgba(111,232,154,0)"},{"offset":0.3939,"color":"#6fe89a"},{"offset":0.3974,"color":"rgba(111,232,154,0)"},{"offset":0.4367,"color":"rgba(111,232,154,0)"},{"offset":0.4402,"color":"#6fe89a"},{"offset":0.4437,"color":"rgba(111,232,154,0)"},{"offset":0.483,"color":"rgba(111,232,154,0)"},{"offset":0.4865,"color":"#6fe89a"},{"offset":0.49,"color":"rgba(111,232,154,0)"},{"offset":0.5293,"color":"rgba(111,232,154,0)"},{"offset":0.5328,"color":"#6fe89a"},{"offset":0.5363,"color":"rgba(111,232,154,0)"},{"offset":0.5756,"color":"rgba(111,232,154,0)"},{"offset":0.5791,"color":"#6fe89a"},{"offset":0.5826,"color":"rgba(111,232,154,0)"},{"offset":0.6219,"color":"rgba(111,232,154,0)"},{"offset":0.6254,"color":"#6fe89a"},{"offset":0.6289,"color":"rgba(111,232,154,0)"},{"offset":0.6682,"color":"rgba(111,232,154,0)"},{"offset":0.6717,"color":"#6fe89a"},{"offset":0.6752,"color":"rgba(111,232,154,0)"},{"offset":0.7145,"color":"rgba(111,232,154,0)"},{"offset":0.718,"color":"#6fe89a"},{"offset":0.7215,"color":"rgba(111,232,154,0)"},{"offset":0.7608,"color":"rgba(111,232,154,0)"},{"offset":0.7643,"color":"#6fe89a"},{"offset":0.7678,"color":"rgba(111,232,154,0)"},{"offset":0.8071,"color":"rgba(111,232,154,0)"},{"offset":0.8106,"color":"#6fe89a"},{"offset":0.8141,"color":"rgba(111,232,154,0)"},{"offset":0.8534,"color":"rgba(111,232,154,0)"},{"offset":0.8569,"color":"#6fe89a"},{"offset":0.8604,"color":"rgba(111,232,154,0)"},{"offset":0.8997,"color":"rgba(111,232,154,0)"},{"offset":0.9032,"color":"#6fe89a"},{"offset":0.9067,"color":"rgba(111,232,154,0)"},{"offset":0.946,"color":"rgba(111,232,154,0)"},{"offset":0.9495,"color":"#6fe89a"},{"offset":0.953,"color":"rgba(111,232,154,0)"},{"offset":1,"color":"rgba(111,232,154,0)"}]}},"encoding":{"y2":{"datum":0}}},
{"data":{"name":"mixture"},"transform":[{"filter":"datum.component === 'P4'"}],"mark":{"type":"area","interpolate":"monotone","fill":{"gradient":"linear","x1":0,"y1":0,"x2":1.12,"y2":0.857,"stops":[{"offset":0,"color":"rgba(245,163,160,0)"},{"offset":0.02,"color":"rgba(245,163,160,0)"},{"offset":0.0235,"color":"#f5a3a0"},{"offset":0.027,"color":"rgba(245,163,160,0)"},{"offset":0.0663,"color":"rgba(245,163,160,0)"},{"offset":0.0698,"color":"#f5a3a0"},{"offset":0.0733,"color":"rgba(245,163,160,0)"},{"offset":0.1126,"color":"rgba(245,163,160,0)"},{"offset":0.1161,"color":"#f5a3a0"},{"offset":0.1196,"color":"rgba(245,163,160,0)"},{"offset":0.1589,"color":"rgba(245,163,160,0)"},{"offset":0.1624,"color":"#f5a3a0"},{"offset":0.1659,"color":"rgba(245,163,160,0)"},{"offset":0.2052,"color":"rgba(245,163,160,0)"},{"offset":0.2087,"color":"#f5a3a0"},{"offset":0.2122,"color":"rgba(245,163,160,0)"},{"offset":0.2515,"color":"rgba(245,163,160,0)"},{"offset":0.255,"color":"#f5a3a0"},{"offset":0.2585,"color":"rgba(245,163,160,0)"},{"offset":0.2978,"color":"rgba(245,163,160,0)"},{"offset":0.3013,"color":"#f5a3a0"},{"offset":0.3048,"color":"rgba(245,163,160,0)"},{"offset":0.3441,"color":"rgba(245,163,160,0)"},{"offset":0.3476,"color":"#f5a3a0"},{"offset":0.3511,"color":"rgba(245,163,160,0)"},{"offset":0.3904,"color":"rgba(245,163,160,0)"},{"offset":0.3939,"color":"#f5a3a0"},{"offset":0.3974,"color":"rgba(245,163,160,0)"},{"offset":0.4367,"color":"rgba(245,163,160,0)"},{"offset":0.4402,"color":"#f5a3a0"},{"offset":0.4437,"color":"rgba(245,163,160,0)"},{"offset":0.483,"color":"rgba(245,163,160,0)"},{"offset":0.4865,"color":"#f5a3a0"},{"offset":0.49,"color":"rgba(245,163,160,0)"},{"offset":0.5293,"color":"rgba(245,163,160,0)"},{"offset":0.5328,"color":"#f5a3a0"},{"offset":0.5363,"color":"rgba(245,163,160,0)"},{"offset":0.5756,"color":"rgba(245,163,160,0)"},{"offset":0.5791,"color":"#f5a3a0"},{"offset":0.5826,"color":"rgba(245,163,160,0)"},{"offset":0.6219,"color":"rgba(245,163,160,0)"},{"offset":0.6254,"color":"#f5a3a0"},{"offset":0.6289,"color":"rgba(245,163,160,0)"},{"offset":0.6682,"color":"rgba(245,163,160,0)"},{"offset":0.6717,"color":"#f5a3a0"},{"offset":0.6752,"color":"rgba(245,163,160,0)"},{"offset":0.7145,"color":"rgba(245,163,160,0)"},{"offset":0.718,"color":"#f5a3a0"},{"offset":0.7215,"color":"rgba(245,163,160,0)"},{"offset":0.7608,"color":"rgba(245,163,160,0)"},{"offset":0.7643,"color":"#f5a3a0"},{"offset":0.7678,"color":"rgba(245,163,160,0)"},{"offset":0.8071,"color":"rgba(245,163,160,0)"},{"offset":0.8106,"color":"#f5a3a0"},{"offset":0.8141,"color":"rgba(245,163,160,0)"},{"offset":0.8534,"color":"rgba(245,163,160,0)"},{"offset":0.8569,"color":"#f5a3a0"},{"offset":0.8604,"color":"rgba(245,163,160,0)"},{"offset":0.8997,"color":"rgba(245,163,160,0)"},{"offset":0.9032,"color":"#f5a3a0"},{"offset":0.9067,"color":"rgba(245,163,160,0)"},{"offset":0.946,"color":"rgba(245,163,160,0)"},{"offset":0.9495,"color":"#f5a3a0"},{"offset":0.953,"color":"rgba(245,163,160,0)"},{"offset":1,"color":"rgba(245,163,160,0)"}]}},"encoding":{"y2":{"datum":0}}},
{"data":{"values":[{"feature":7.9,"feature2":7.9,"pdf":0,"pdf2":68},{"feature":17.7,"feature2":17.7,"pdf":0,"pdf2":68},{"feature":58.2,"feature2":58.2,"pdf":0,"pdf2":95},{"feature":84.7,"feature2":84.7,"pdf":0,"pdf2":95}]},"mark":{"type":"rule","color":"#222222","strokeWidth":2,"strokeDash":[18,11]},"encoding":{"x2":{"field":"feature2"},"y2":{"field":"pdf2"}}},
{"data":{"values":[{"feature":6.6,"feature2":7.9,"pdf":27,"pdf2":27},{"feature":17.7,"feature2":18.7,"pdf":26.5,"pdf2":26.5},{"feature":51.7,"feature2":58.2,"pdf":26.8,"pdf2":26.8},{"feature":84.7,"feature2":90.9,"pdf":26.8,"pdf2":26.8}]},"mark":{"type":"rule","color":"#444444","strokeWidth":2,"strokeDash":[3,6]},"encoding":{"x2":{"field":"feature2"},"y2":{"field":"pdf2"}}},
{"data":{"values":[{"feature":0,"feature2":0,"pdf":-1,"pdf2":100.25},{"feature":-0.4,"feature2":111.4,"pdf":0,"pdf2":0}]},"mark":{"type":"rule","color":"black","strokeWidth":8},"encoding":{"x2":{"field":"feature2"},"y2":{"field":"pdf2"}}},
{"data":{"values":[{"feature":0,"pdf":110.25}]},"mark":{"type":"point","shape":"M0,0L-0.75,2L0.75,2Z","size":1936,"filled":true,"color":"black","opacity":1,"strokeWidth":0}},
{"data":{"values":[{"feature":115.4,"pdf":0}]},"mark":{"type":"point","shape":"M0,0L-2,-0.75L-2,0.75Z","size":1936,"filled":true,"color":"black","opacity":1,"strokeWidth":0}},
{"data":{"name":"mixture"},"mark":{"type":"line","strokeWidth":4.5,"interpolate":"monotone"},"encoding":{"detail":{"field":"component"},"color":{"field":"signal","type":"nominal","scale":{"domain":["signal 1","signal 2"],"range":["#b23b38","#2e9150"]},"legend":null}}},
{"data":{"values":[{"label":"w","feature":5.3,"pdf":76.75},{"label":"w","feature":18.2,"pdf":76.75},{"label":"w","feature":50.3,"pdf":99.5},{"label":"w","feature":90.4,"pdf":99.5},{"label":"σ","feature":2.3,"pdf":31.75},{"label":"σ","feature":22.7,"pdf":30.75},{"label":"σ","feature":47.6,"pdf":28.75},{"label":"σ","feature":93.8,"pdf":28.75},{"label":"μ","feature":8.2,"pdf":-10.75},{"label":"μ","feature":18.4,"pdf":-10.75},{"label":"μ","feature":57.5,"pdf":-10.75},{"label":"μ","feature":84.5,"pdf":-10.75}]},"mark":{"type":"text","font":"Liberation Serif","fontSize":58,"align":"center","baseline":"alphabetic","color":"black"},"encoding":{"text":{"field":"label"}}},
{"data":{"values":[{"label":"1","feature":8.0,"pdf":71.75},{"label":"2","feature":20.7,"pdf":70.75},{"label":"3","feature":52.5,"pdf":94.5},{"label":"4","feature":92.7,"pdf":94.5},{"label":"1","feature":4.4,"pdf":26.25},{"label":"2","feature":24.5,"pdf":25.75},{"label":"3","feature":49.2,"pdf":23.75},{"label":"4","feature":94.8,"pdf":23.75},{"label":"1","feature":9.8,"pdf":-15.75},{"label":"2","feature":20.0,"pdf":-15.75},{"label":"3","feature":59.0,"pdf":-15.75},{"label":"4","feature":86.0,"pdf":-15.75}]},"mark":{"type":"text","font":"Liberation Serif","fontSize":42,"align":"left","baseline":"alphabetic","color":"black"},"encoding":{"text":{"field":"label"}}},
{"data":{"values":[{"label":"pdf","feature":-7.0,"pdf":95.75}]},"mark":{"type":"text","font":"Liberation Sans","fontSize":60,"angle":270,"align":"center","baseline":"middle","color":"black"},"encoding":{"text":{"field":"label"}}},
{"data":{"values":[{"label":"feature","feature":108.0,"pdf":10.75}]},"mark":{"type":"text","font":"Liberation Sans","fontSize":61,"align":"left","baseline":"alphabetic","color":"black"},"encoding":{"text":{"field":"label"}}}
]},
{"width":1919,"height":629,
"encoding":{"x":{"field":"feature","type":"quantitative","scale":{"domain":[-12.8,179.1],"nice":false,"zero":false},"axis":null},"y":{"field":"pdf","type":"quantitative","scale":{"domain":[-29,128.25],"nice":false,"zero":false},"axis":null}},
"layer":[
{"data":{"name":"convolved"},"mark":{"type":"area","interpolate":"monotone","fill":{"gradient":"linear","x1":0,"y1":0,"x2":1.18,"y2":0.2926,"stops":[{"offset":0,"color":"rgba(110,110,110,0)"},{"offset":0.01,"color":"rgba(110,110,110,0)"},{"offset":0.01104,"color":"#6e6e6e"},{"offset":0.01208,"color":"rgba(110,110,110,0)"},{"offset":0.03078,"color":"rgba(110,110,110,0)"},{"offset":0.03182,"color":"#6e6e6e"},{"offset":0.03286,"color":"rgba(110,110,110,0)"},{"offset":0.05156,"color":"rgba(110,110,110,0)"},{"offset":0.0526,"color":"#6e6e6e"},{"offset":0.05364,"color":"rgba(110,110,110,0)"},{"offset":0.07234,"color":"rgba(110,110,110,0)"},{"offset":0.07338,"color":"#6e6e6e"},{"offset":0.07442,"color":"rgba(110,110,110,0)"},{"offset":0.09312,"color":"rgba(110,110,110,0)"},{"offset":0.09416,"color":"#6e6e6e"},{"offset":0.0952,"color":"rgba(110,110,110,0)"},{"offset":0.1139,"color":"rgba(110,110,110,0)"},{"offset":0.11494,"color":"#6e6e6e"},{"offset":0.11598,"color":"rgba(110,110,110,0)"},{"offset":0.13468,"color":"rgba(110,110,110,0)"},{"offset":0.13572,"color":"#6e6e6e"},{"offset":0.13676,"color":"rgba(110,110,110,0)"},{"offset":0.15546,"color":"rgba(110,110,110,0)"},{"offset":0.1565,"color":"#6e6e6e"},{"offset":0.15754,"color":"rgba(110,110,110,0)"},{"offset":0.17624,"color":"rgba(110,110,110,0)"},{"offset":0.17728,"color":"#6e6e6e"},{"offset":0.17832,"color":"rgba(110,110,110,0)"},{"offset":0.19702,"color":"rgba(110,110,110,0)"},{"offset":0.19806,"color":"#6e6e6e"},{"offset":0.1991,"color":"rgba(110,110,110,0)"},{"offset":0.2178,"color":"rgba(110,110,110,0)"},{"offset":0.21884,"color":"#6e6e6e"},{"offset":0.21988,"color":"rgba(110,110,110,0)"},{"offset":0.23858,"color":"rgba(110,110,110,0)"},{"offset":0.23962,"color":"#6e6e6e"},{"offset":0.24066,"color":"rgba(110,110,110,0)"},{"offset":0.25936,"color":"rgba(110,110,110,0)"},{"offset":0.2604,"color":"#6e6e6e"},{"offset":0.26144,"color":"rgba(110,110,110,0)"},{"offset":0.28014,"color":"rgba(110,110,110,0)"},{"offset":0.28118,"color":"#6e6e6e"},{"offset":0.28222,"color":"rgba(110,110,110,0)"},{"offset":0.30092,"color":"rgba(110,110,110,0)"},{"offset":0.30196,"color":"#6e6e6e"},{"offset":0.303,"color":"rgba(110,110,110,0)"},{"offset":0.3217,"color":"rgba(110,110,110,0)"},{"offset":0.32274,"color":"#6e6e6e"},{"offset":0.32378,"color":"rgba(110,110,110,0)"},{"offset":0.34248,"color":"rgba(110,110,110,0)"},{"offset":0.34352,"color":"#6e6e6e"},{"offset":0.34456,"color":"rgba(110,110,110,0)"},{"offset":0.36326,"color":"rgba(110,110,110,0)"},{"offset":0.3643,"color":"#6e6e6e"},{"offset":0.36534,"color":"rgba(110,110,110,0)"},{"offset":0.38404,"color":"rgba(110,110,110,0)"},{"offset":0.38508,"color":"#6e6e6e"},{"offset":0.38612,"color":"rgba(110,110,110,0)"},{"offset":0.40482,"color":"rgba(110,110,110,0)"},{"offset":0.40586,"color":"#6e6e6e"},{"offset":0.4069,"color":"rgba(110,110,110,0)"},{"offset":0.4256,"color":"rgba(110,110,110,0)"},{"offset":0.42664,"color":"#6e6e6e"},{"offset":0.42768,"color":"rgba(110,110,110,0)"},{"offset":0.44638,"color":"rgba(110,110,110,0)"},{"offset":0.44742,"color":"#6e6e6e"},{"offset":0.44846,"color":"rgba(110,110,110,0)"},{"offset":0.46716,"color":"rgba(110,110,110,0)"},{"offset":0.4682,"color":"#6e6e6e"},{"offset":0.46924,"color":"rgba(110,110,110,0)"},{"offset":0.48794,"color":"rgba(110,110,110,0)"},{"offset":0.48898,"color":"#6e6e6e"},{"offset":0.49002,"color":"rgba(110,110,110,0)"},{"offset":0.50872,"color":"rgba(110,110,110,0)"},{"offset":0.50976,"color":"#6e6e6e"},{"offset":0.5108,"color":"rgba(110,110,110,0)"},{"offset":0.5295,"color":"rgba(110,110,110,0)"},{"offset":0.53054,"color":"#6e6e6e"},{"offset":0.53158,"color":"rgba(110,110,110,0)"},{"offset":0.55028,"color":"rgba(110,110,110,0)"},{"offset":0.55132,"color":"#6e6e6e"},{"offset":0.55236,"color":"rgba(110,110,110,0)"},{"offset":0.57106,"color":"rgba(110,110,110,0)"},{"offset":0.5721,"color":"#6e6e6e"},{"offset":0.57314,"color":"rgba(110,110,110,0)"},{"offset":0.59184,"color":"rgba(110,110,110,0)"},{"offset":0.59288,"color":"#6e6e6e"},{"offset":0.59392,"color":"rgba(110,110,110,0)"},{"offset":0.61262,"color":"rgba(110,110,110,0)"},{"offset":0.61366,"color":"#6e6e6e"},{"offset":0.6147,"color":"rgba(110,110,110,0)"},{"offset":0.6334,"color":"rgba(110,110,110,0)"},{"offset":0.63444,"color":"#6e6e6e"},{"offset":0.63548,"color":"rgba(110,110,110,0)"},{"offset":0.65418,"color":"rgba(110,110,110,0)"},{"offset":0.65522,"color":"#6e6e6e"},{"offset":0.65626,"color":"rgba(110,110,110,0)"},{"offset":0.67496,"color":"rgba(110,110,110,0)"},{"offset":0.676,"color":"#6e6e6e"},{"offset":0.67704,"color":"rgba(110,110,110,0)"},{"offset":0.69574,"color":"rgba(110,110,110,0)"},{"offset":0.69678,"color":"#6e6e6e"},{"offset":0.69782,"color":"rgba(110,110,110,0)"},{"offset":0.71652,"color":"rgba(110,110,110,0)"},{"offset":0.71756,"color":"#6e6e6e"},{"offset":0.7186,"color":"rgba(110,110,110,0)"},{"offset":0.7373,"color":"rgba(110,110,110,0)"},{"offset":0.73834,"color":"#6e6e6e"},{"offset":0.73938,"color":"rgba(110,110,110,0)"},{"offset":0.75808,"color":"rgba(110,110,110,0)"},{"offset":0.75912,"color":"#6e6e6e"},{"offset":0.76016,"color":"rgba(110,110,110,0)"},{"offset":0.77886,"color":"rgba(110,110,110,0)"},{"offset":0.7799,"color":"#6e6e6e"},{"offset":0.78094,"color":"rgba(110,110,110,0)"},{"offset":0.79964,"color":"rgba(110,110,110,0)"},{"offset":0.80068,"color":"#6e6e6e"},{"offset":0.80172,"color":"rgba(110,110,110,0)"},{"offset":0.82042,"color":"rgba(110,110,110,0)"},{"offset":0.82146,"color":"#6e6e6e"},{"offset":0.8225,"color":"rgba(110,110,110,0)"},{"offset":0.8412,"color":"rgba(110,110,110,0)"},{"offset":0.84224,"color":"#6e6e6e"},{"offset":0.84328,"color":"rgba(110,110,110,0)"},{"offset":0.86198,"color":"rgba(110,110,110,0)"},{"offset":0.86302,"color":"#6e6e6e"},{"offset":0.86406,"color":"rgba(110,110,110,0)"},{"offset":0.88276,"color":"rgba(110,110,110,0)"},{"offset":0.8838,"color":"#6e6e6e"},{"offset":0.88484,"color":"rgba(110,110,110,0)"},{"offset":0.90354,"color":"rgba(110,110,110,0)"},{"offset":0.90458,"color":"#6e6e6e"},{"offset":0.90562,"color":"rgba(110,110,110,0)"},{"offset":0.92432,"color":"rgba(110,110,110,0)"},{"offset":0.92536,"color":"#6e6e6e"},{"offset":0.9264,"color":"rgba(110,110,110,0)"},{"offset":0.9451,"color":"rgba(110,110,110,0)"},{"offset":0.94614,"color":"#6e6e6e"},{"offset":0.94718,"color":"rgba(110,110,110,0)"},{"offset":0.96588,"color":"rgba(110,110,110,0)"},{"offset":0.96692,"color":"#6e6e6e"},{"offset":0.96796,"color":"rgba(110,110,110,0)"},{"offset":0.98666,"color":"rgba(110,110,110,0)"},{"offset":0.9877,"color":"#6e6e6e"},{"offset":0.98874,"color":"rgba(110,110,110,0)"},{"offset":1,"color":"rgba(110,110,110,0)"}]}},"encoding":{"y2":{"datum":0}}},
{"data":{"values":[{"feature":27.2,"feature2":27.2,"pdf":0,"pdf2":34},{"feature":65.6,"feature2":65.6,"pdf":0,"pdf2":60},{"feature":103.9,"feature2":103.9,"pdf":0,"pdf2":60},{"feature":144.35,"feature2":144.35,"pdf":0,"pdf2":93.5}]},"mark":{"type":"rule","color":"#444444","strokeWidth":2,"strokeDash":[20,13]},"encoding":{"x2":{"field":"feature2"},"y2":{"field":"pdf2"}}},
{"data":{"values":[{"feature":0,"feature2":0,"pdf":-1,"pdf2":101},{"feature":-0.4,"feature2":171.6,"pdf":0,"pdf2":0}]},"mark":{"type":"rule","color":"black","strokeWidth":8},"encoding":{"x2":{"field":"feature2"},"y2":{"field":"pdf2"}}},
{"data":{"values":[{"feature":0,"pdf":111}]},"mark":{"type":"point","shape":"M0,0L-0.75,2L0.75,2Z","size":1936,"filled":true,"color":"black","opacity":1,"strokeWidth":0}},
{"data":{"values":[{"feature":175.6,"pdf":0}]},"mark":{"type":"point","shape":"M0,0L-2,-0.75L-2,0.75Z","size":1936,"filled":true,"color":"black","opacity":1,"strokeWidth":0}},
{"data":{"name":"convolved"},"mark":{"type":"line","strokeWidth":4.2,"color":"black","interpolate":"monotone"}},
{"data":{"values":[{"term":"L1","feature":4.4,"pdf":17.5},{"term":"L1","feature":5.2,"pdf":12.5},{"term":"L1","feature":6.4,"pdf":24},{"term":"L1","feature":22.0,"pdf":24},{"term":"L2","feature":41.5,"pdf":35.5},{"term":"L2","feature":42.3,"pdf":30.5},{"term":"L2","feature":43.5,"pdf":42},{"term":"L2","feature":59.1,"pdf":42},{"term":"L3","feature":81.6,"pdf":36.75},{"term":"L3","feature":82.4,"pdf":31.75},{"term":"L3","feature":83.6,"pdf":43.25},{"term":"L3","feature":99.2,"pdf":43.25},{"term":"L4","feature":120.6,"pdf":50.85},{"term":"L4","feature":121.4,"pdf":45.85},{"term":"L4","feature":122.6,"pdf":57.35},{"term":"L4","feature":138.2,"pdf":57.35}]},"mark":{"type":"line","color":"black","strokeWidth":2.5},"encoding":{"detail":{"field":"term"}}},
{"data":{"values":[{"label":"σ","feature":7.5,"pdf":15},{"label":"+","feature":13.6,"pdf":13.5},{"label":"σ","feature":16.4,"pdf":15},{"label":"σ","feature":44.6,"pdf":33},{"label":"+","feature":50.7,"pdf":31.5},{"label":"σ","feature":53.5,"pdf":33},{"label":"σ","feature":84.7,"pdf":34.25},{"label":"+","feature":90.8,"pdf":32.75},{"label":"σ","feature":93.6,"pdf":34.25},{"label":"σ","feature":123.7,"pdf":48.35},{"label":"+","feature":129.8,"pdf":46.85},{"label":"σ","feature":132.6,"pdf":48.35}]},"mark":{"type":"text","font":"Liberation Serif","fontSize":56,"align":"center","baseline":"alphabetic","color":"black"},"encoding":{"text":{"field":"label"}}},
{"data":{"values":[{"label":"2","feature":9.1,"pdf":17.25},{"label":"2","feature":18.1,"pdf":17.25},{"label":"1","feature":9.6,"pdf":8.25},{"label":"2","feature":18.6,"pdf":8.25},{"label":"2","feature":46.2,"pdf":35.25},{"label":"2","feature":55.2,"pdf":35.25},{"label":"2","feature":46.7,"pdf":26.25},{"label":"3","feature":55.7,"pdf":26.25},{"label":"2","feature":86.3,"pdf":36.5},{"label":"2","feature":95.3,"pdf":36.5},{"label":"1","feature":86.8,"pdf":27.5},{"label":"4","feature":95.8,"pdf":27.5},{"label":"2","feature":125.3,"pdf":50.6},{"label":"2","feature":134.3,"pdf":50.6},{"label":"3","feature":125.8,"pdf":41.6},{"label":"4","feature":134.8,"pdf":41.6}]},"mark":{"type":"text","font":"Liberation Serif","fontSize":37,"align":"left","baseline":"alphabetic","color":"black"},"encoding":{"text":{"field":"label"}}},
{"data":{"values":[{"label":"w","feature":17.4,"pdf":39.5},{"label":".","feature":22.4,"pdf":39.5},{"label":"w","feature":25.0,"pdf":39.5},{"label":"w","feature":56.3,"pdf":64.75},{"label":".","feature":61.3,"pdf":64.75},{"label":"w","feature":63.9,"pdf":64.75},{"label":"w","feature":95.9,"pdf":66.75},{"label":".","feature":100.9,"pdf":66.75},{"label":"w","feature":103.5,"pdf":66.75},{"label":"w","feature":148.0,"pdf":97},{"label":".","feature":153.3,"pdf":97},{"label":"w","feature":155.8,"pdf":97},{"label":"μ","feature":21.95,"pdf":-15.5},{"label":"+","feature":27.45,"pdf":-15.5},{"label":"μ","feature":30.85,"pdf":-15.5},{"label":"μ","feature":60.3,"pdf":-15.5},{"label":"+","feature":65.8,"pdf":-15.5},{"label":"μ","feature":69.2,"pdf":-15.5},{"label":"μ","feature":98.6,"pdf":-15.5},{"label":"+","feature":104.1,"pdf":-15.5},{"label":"μ","feature":107.5,"pdf":-15.5},{"label":"μ","feature":138.3,"pdf":-15.5},{"label":"+","feature":143.8,"pdf":-15.5},{"label":"μ","feature":147.2,"pdf":-15.5}]},"mark":{"type":"text","font":"Liberation Serif","fontSize":58,"align":"center","baseline":"alphabetic","color":"black"},"encoding":{"text":{"field":"label"}}},
{"data":{"values":[{"label":"1","feature":19.8,"pdf":35},{"label":"2","feature":28.0,"pdf":35},{"label":"2","feature":58.7,"pdf":59.5},{"label":"3","feature":66.9,"pdf":59.5},{"label":"1","feature":98.3,"pdf":62},{"label":"4","feature":106.5,"pdf":62},{"label":"3","feature":150.4,"pdf":92},{"label":"4","feature":158.4,"pdf":92},{"label":"1","feature":23.45,"pdf":-21},{"label":"2","feature":32.35,"pdf":-21},{"label":"2","feature":61.8,"pdf":-21},{"label":"3","feature":70.7,"pdf":-21},{"label":"1","feature":100.1,"pdf":-21},{"label":"4","feature":109.0,"pdf":-21},{"label":"3","feature":139.8,"pdf":-21},{"label":"4","feature":148.7,"pdf":-21}]},"mark":{"type":"text","font":"Liberation Serif","fontSize":40,"align":"left","baseline":"alphabetic","color":"black"},"encoding":{"text":{"field":"label"}}},
{"data":{"values":[{"label":"pdf","feature":-6.2,"pdf":96.25}]},"mark":{"type":"text","font":"Liberation Sans","fontSize":60,"angle":270,"align":"center","baseline":"middle","color":"black"},"encoding":{"text":{"field":"label"}}},
{"data":{"values":[{"label":"feature","feature":160.8,"pdf":12.75}]},"mark":{"type":"text","font":"Liberation Sans","fontSize":61,"align":"left","baseline":"alphabetic","color":"black"},"encoding":{"text":{"field":"label"}}},
{"data":{"values":[{"feature":9.3,"pdf":118.5,"feature2":20.44,"pdf2":71.95},{"feature":9.3,"pdf":118.5,"feature2":89.07,"pdf2":78.2},{"feature":22.3,"pdf":119.38,"feature2":25.02,"pdf2":69.35},{"feature":22.3,"pdf":119.38,"feature2":55.68,"pdf2":84.45},{"feature":61.25,"pdf":124.6,"feature2":63.35,"pdf2":84.45},{"feature":61.25,"pdf":124.6,"feature2":137.3,"pdf2":80.3},{"feature":87.2,"pdf":126.15,"feature2":100.82,"pdf2":89.15},{"feature":87.2,"pdf":126.15,"feature2":137.3,"pdf2":95.9}]},"mark":{"type":"rule","color":"#3d7fd6","strokeWidth":3},"encoding":{"x2":{"field":"feature2"},"y2":{"field":"pdf2"}}},
{"data":{"values":[{"feature":9.3,"pdf":118.5,"feature2":20.44,"pdf2":71.95},{"feature":9.3,"pdf":118.5,"feature2":89.07,"pdf2":78.2},{"feature":22.3,"pdf":119.38,"feature2":25.02,"pdf2":69.35},{"feature":22.3,"pdf":119.38,"feature2":55.68,"pdf2":84.45},{"feature":61.25,"pdf":124.6,"feature2":63.35,"pdf2":84.45},{"feature":61.25,"pdf":124.6,"feature2":137.3,"pdf2":80.3},{"feature":87.2,"pdf":126.15,"feature2":100.82,"pdf2":89.15},{"feature":87.2,"pdf":126.15,"feature2":137.3,"pdf2":95.9}]},"transform":[{"calculate":"atan2((datum.pdf - datum.pdf2) * 4, (datum.feature2 - datum.feature) * 10) * 180 / PI","as":"heading"}],"mark":{"type":"point","shape":"M0,0L-2,-0.65L-2,0.65Z","size":841,"filled":true,"color":"#3d7fd6","opacity":1,"strokeWidth":0},"encoding":{"x":{"field":"feature2","type":"quantitative","scale":{"domain":[-12.8,179.1],"nice":false,"zero":false},"axis":null},"y":{"field":"pdf2","type":"quantitative","scale":{"domain":[-29,128.25],"nice":false,"zero":false},"axis":null},"angle":{"field":"heading","type":"quantitative","scale":null}}}
]}
],"spacing":0,"bounds":"flush"}
]
}
